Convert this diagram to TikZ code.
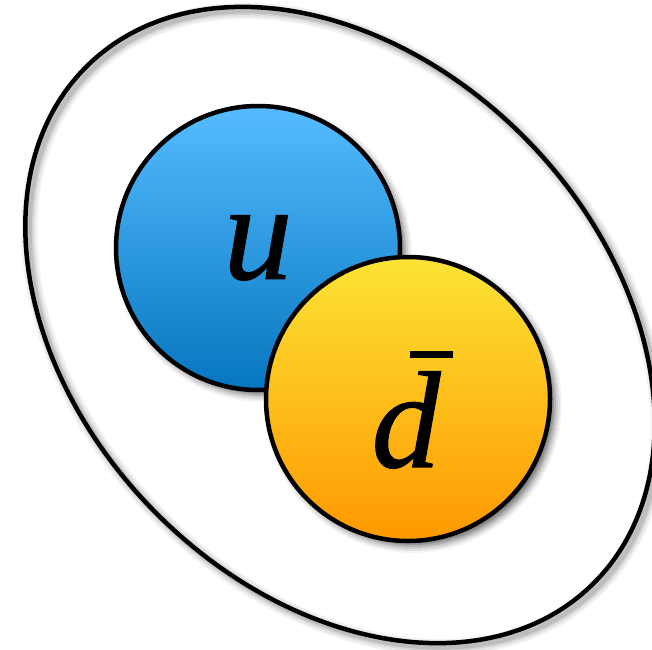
\documentclass[tikz,border=0pt]{standalone}
\usepackage{fontspec}
\setmainfont{Liberation Serif}
\newfontfamily\qfont[ItalicFeatures={FakeBold=0.8}]{Liberation Serif}
\usetikzlibrary{shadows.blur}
\definecolor{bluetop}{RGB}{85,188,255}
\definecolor{bluebot}{RGB}{6,118,192}
\definecolor{yeltop}{RGB}{252,228,52}
\definecolor{yelbot}{RGB}{255,152,0}
\tikzset{
  quark/.style={circle, draw=black, line width=4.5pt, minimum size=284pt, inner sep=0pt,
    blur shadow={shadow xshift=5pt, shadow yshift=-5pt, shadow blur radius=7pt, shadow opacity=60}},
  label/.style={font=\qfont\fontsize{138}{140}\selectfont\itshape, inner sep=0pt},
  hull/.style={draw=black, line width=4.5pt}
}
\begin{document}
\begin{tikzpicture}[x=1pt,y=1pt]
\useasboundingbox (0,0) rectangle (652,649);
% ellipse shadow
\foreach \w/\o in {16/0.05,12/0.06,8/0.08,5/0.10}{
  \draw[line width=\w pt, black, opacity=\o] (344,320) ellipse [x radius=362, y radius=263, rotate=-46];
}
\draw[hull] (340,324) ellipse [x radius=362, y radius=263, rotate=-46];
\node[quark, top color=bluetop, bottom color=bluebot] (u) at (258,401) {};
\node[label] (ul) at (u.center) {u};
\node[quark, top color=yeltop, bottom color=yelbot] (d) at (408,250) {};
\node[label] (dl) at (406,229) {d};
\fill[black] (410,298) rectangle (453,291);
\end{tikzpicture}
\end{document}
